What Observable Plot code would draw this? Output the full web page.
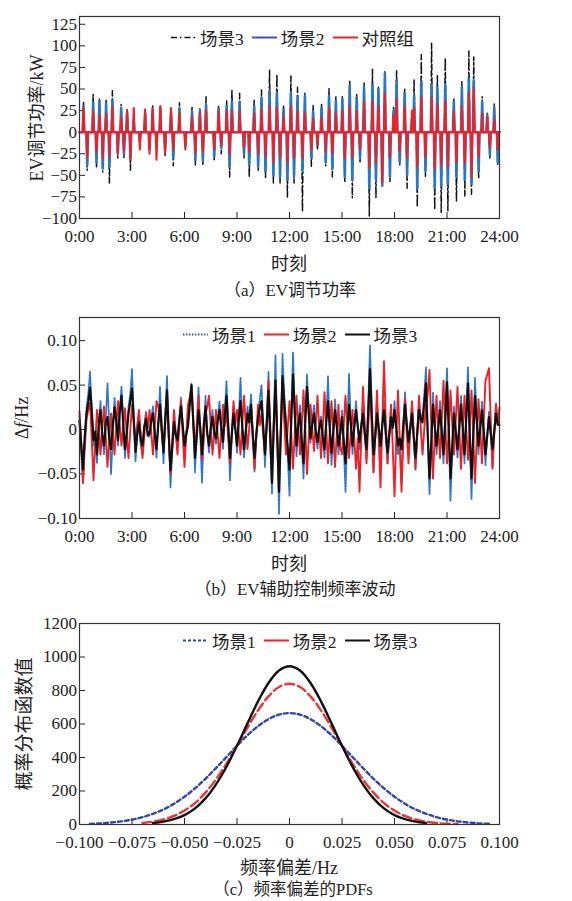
<!DOCTYPE html>
<html><head><meta charset="utf-8">
<script src="https://cdn.jsdelivr.net/npm/d3@7"></script>
<script src="https://cdn.jsdelivr.net/npm/@observablehq/plot@0.6"></script>
<style>
body{margin:0;background:#fff;}
#wrap{position:relative;width:572px;height:901px;font-family:"Liberation Serif","Noto Sans CJK SC",serif;color:#222;overflow:hidden;}
.ylab{position:absolute;white-space:nowrap;transform:translate(-50%,-50%) rotate(-90deg);font-size:18px;}
.xlab{position:absolute;white-space:nowrap;transform:translate(-50%,-50%);font-size:18px;}
.legend{position:absolute;display:flex;align-items:center;font-size:17.5px;transform:translateY(-50%);white-space:nowrap;}
.legend svg{margin-right:4px;}
.legend span{margin-right:8px;}
</style></head><body><div id="wrap"></div>
<script>
// ---------- Panel (a): EV regulation power (kW), spike events ----------
const evTime     = [0.23,0.44,0.78,0.97,1.14,1.33,1.52,1.71,1.88,2.19,2.38,2.54,2.72,2.91,3.10,3.45,3.75,4.00,4.18,4.40,4.62,4.89,5.23,5.36,5.71,6.05,6.43,6.62,6.88,7.05,7.23,7.70,7.95,8.10,8.41,8.58,8.71,9.15,9.40,9.70,9.98,10.21,10.40,10.63,10.86,11.08,11.28,11.46,11.66,11.88,12.08,12.26,12.46,12.74,12.88,13.25,13.35,13.60,13.83,14.07,14.26,14.45,14.65,15.02,15.16,15.44,15.59,15.84,16.03,16.26,16.56,16.74,16.94,17.08,17.30,17.45,17.74,17.95,18.12,18.30,18.58,18.72,19.00,19.12,19.30,19.53,19.77,20.12,20.30,20.45,20.67,20.90,21.05,21.39,21.54,21.85,22.02,22.25,22.40,22.53,22.81,23.01,23.30,23.45,23.70,23.90];
const evScene3   = [35,-44,44,-40,38,-46,37,-59,48,-30,32,-30,25,-44,18,-15,28,-22,32,-20,30,-27,26,-39,34,-20,30,-38,28,-39,41,-32,31,-25,36,-52,49,45,-30,-52,38,-44,49,-53,72,-60,67,-59,31,-76,65,-59,52,-92,45,-40,31,-20,32,-39,51,-52,41,41,-57,59,-76,44,-36,57,-97,73,-76,52,-60,70,-57,30,72,-38,51,-65,20,61,-87,90,-51,103,-90,66,-93,86,-91,39,-80,59,-74,94,-72,87,-54,41,22,-31,33,-38];
const evScene2   = [30,-38,34,-35,36,-42,33,-40,37,-24,28,-25,22,-30,12,-10,22,-18,25,-12,27,-22,22,-30,28,-15,24,-32,25,-33,32,-28,27,-18,30,-40,34,35,-25,-38,30,-40,40,-45,48,-50,45,-52,26,-55,46,-50,40,-45,42,-30,24,-15,28,-35,42,-42,36,38,-52,54,-55,40,-30,52,-65,55,-55,50,-62,68,-52,25,60,-35,45,-50,15,42,-65,58,-45,55,-65,52,-62,55,-60,35,-52,52,-55,62,-60,60,-45,35,20,-26,28,-35];
const evControl  = [28,-30,24,-22,20,-30,22,-28,30,-25,18,-22,26,-32,28,-20,25,-25,28,-32,30,-24,28,-20,22,-18,18,-24,22,-22,26,-20,24,-15,25,-25,25,24,-18,-22,22,-25,26,-28,30,-35,28,-30,18,-35,30,-30,24,-30,22,-20,15,-15,16,-22,28,-25,22,25,-30,30,-30,24,-20,35,-40,36,-35,30,-58,45,-30,20,38,-22,30,-30,25,28,-40,40,-28,40,-42,32,-38,35,-40,24,-35,30,-35,45,-52,52,-28,22,18,-18,15,-20];
const hourTicks  = [0,3,6,9,12,15,18,21,24];
const powerTicks = [-100,-75,-50,-25,0,25,50,75,100,125];

// ---------- Panel (b): frequency deviation (mHz), every 0.1 h ----------
const freqTime = Array.from({length:241},(_,i)=>i*0.1); // sampling instants 0:00..24:00
const dfScene1 = [
15,-25,-60,-10,25,40,65,25,-18,-5, -38,5,32,-5,-28,12,52,5,-50,-10,
36,12,-18,22,48,8,-32,-6,26,40, 68,16,-36,-8,12,-18,-28,4,20,-8,
-8,14,26,-5,-32,8,48,5,-38,14, 60,-8,-65,-25,12,-8,-18,12,36,6,
-26,-6,8,35,52,10,-48,-5,48,-5, -60,-8,38,-4,-26,2,22,-4,-16,12,
32,2,-22,20,55,5,-57,-10,26,3, -26,14,58,5,-32,-4,26,10,40,-8,
-48,-10,20,34,50,4,-42,10,65,-12, -72,8,84,-10,-95,-8,85,40,8,-30,
-75,12,87,25,-30,6,28,-18,-55,10, 62,22,-15,8,28,-3,-22,3,15,-12,
-32,12,60,4,-40,-6,34,5,-28,-6, 22,-20,-70,-5,63,10,-28,2,32,5,
-22,5,28,-6,-32,30,95,25,-48,-10, 28,3,-28,6,32,-5,-38,-8,20,3,
32,3,-28,-18,-60,5,42,8,-22,3, 28,-12,-45,-5,32,16,14,40,70,-8,
-73,-20,42,5,-28,3,32,-3,-38,14, 69,0,-80,-25,26,-3,-32,3,38,3,
-38,16,70,-8,-78,-10,58,14,-28,3, 32,-3,-40,-8,20,-6,-42,-3,30,8, 8];
const dfScene2 = [
20,-15,-60,-20,12,22,30,-10,-57,-15, 22,5,-28,0,26,-8,-42,-10,18,-5,
-28,5,32,6,-18,4,24,-5,-32,-2, 28,8,-14,6,22,-6,-32,-8,18,2,
22,-4,-28,4,32,25,18,-5,-24,6, 38,-8,-50,-12,22,-4,-28,2,32,-6,
-42,-6,28,36,44,8,-24,5,38,2, -34,-10,18,25,38,4,-28,-4,22,-6,
-32,-2,28,4,22,-10,-38,-5,32,6, 22,-5,-28,6,38,6,-22,2,28,-6,
-44,-8,28,5,18,-6,-28,10,55,5, -40,2,45,-5,-55,0,50,8,-28,2,
32,-5,-44,-4,38,4,-28,4,44,2, -50,-10,28,2,-24,6,38,2,-32,2,
42,0,-38,-2,32,-4,-42,-6,28,-20, -28,5,38,4,-32,-4,22,-10,-44,-10,
-70,-10,48,4,-38,5,50,0,-48,-4, 44,-10,-65,5,77,10,-38,-4,28,-20,
-75,-10,44,-10,-70,-15,34,-2,-38,-2, 32,-4,-44,-4,38,2,-28,0,28,40,
67,5,-55,-6,38,2,-32,10,55,6, -38,0,44,6,-28,10,48,2,-44,-2,
38,0,-34,4,44,-8,-60,-10,34,0, -38,10,55,62,69,10,-44,-5,28,5, 25];
const dfScene3 = [
10,-18,-45,-8,18,30,47,22,-12,-2, -28,5,22,-6,-18,8,14,-10,-22,4,
25,10,-12,20,38,5,-22,-4,18,32, 46,12,-25,-5,8,-12,-18,3,12,-6,
-5,10,18,-4,-22,6,28,2,-26,12, 44,-5,-46,-20,8,-6,-12,10,26,4,
-18,-5,4,28,50,10,-32,-8,22,2, -28,5,26,-4,-18,2,14,-4,-10,10,
22,2,-14,15,38,4,-32,-6,18,2, -18,10,32,4,-22,-2,18,8,28,-6,
-32,-6,12,24,32,2,-28,6,44,-10, -60,5,55,-10,-70,-5,60,30,4,-20,
-45,10,62,18,-18,5,18,-12,-38,8, 48,18,-10,6,18,-2,-14,2,10,-8,
-22,8,32,2,-26,-4,22,4,-18,-4, 14,-12,-38,-6,28,8,-18,2,22,4,
-14,4,18,-5,-22,20,68,18,-28,-8, 18,2,-18,5,22,-4,-26,-6,14,2,
22,2,-18,-10,-22,4,28,6,-14,2, 18,-8,-32,-4,22,12,8,30,52,-5,
-55,-15,28,4,-18,2,22,-2,-28,10, 53,0,-55,-18,18,-2,-22,2,28,2,
-28,12,52,-5,-55,-8,38,10,-18,2, 22,-2,-28,-6,14,-4,-22,-2,18,6, 5];
const freqTicks = [-0.1,-0.05,0,0.05,0.1];

// ---------- Panel (c): PDFs of frequency deviation ----------
const pdfX = [-0.095,-0.09,-0.085,-0.08,-0.075,-0.07,-0.065,-0.06,-0.055,-0.05,-0.045,-0.04,-0.035,-0.03,-0.025,-0.02,-0.015,-0.01,-0.005,0,0.005,0.01,0.015,0.02,0.025,0.03,0.035,0.04,0.045,0.05,0.055,0.06,0.065,0.07,0.075,0.08,0.085,0.09,0.095];
const pdfScene1 = [4,7,12,19,29,44,64,90,124,166,216,273,337,403,470,533,587,629,656,665,656,629,587,533,470,403,337,273,216,166,124,90,64,44,29,19,12,7,4];
const pdfScene2 = [null,null,null,null,null,9,17,30,51,83,128,190,269,364,470,579,681,765,821,840,821,765,681,579,470,364,269,190,128,83,51,30,17,9,5,3,null,null,null];
const pdfScene3 = [null,null,null,null,null,null,8,17,32,56,96,156,240,345,470,604,735,845,919,945,919,845,735,604,470,345,240,156,96,56,32,17,8,null,null,null,null,null,null];
const pdfXTicks = [-0.1,-0.075,-0.05,-0.025,0,0.025,0.05,0.075,0.1];
const pdfYTicks = [0,200,400,600,800,1000,1200];

// ---------- helpers ----------
const wrap = document.getElementById("wrap");
const BLUE = "#2b78c2", RED = "#ec2228", BLACK = "#111";
const W = 0.045; // half width of a spike (h)
function spikes(vals){
  const pts = [{t:0, v:0}];
  evTime.forEach((t,i)=>{ pts.push({t:t-W, v:0}, {t, v:vals[i]}, {t:t+W, v:0}); });
  pts.push({t:24, v:0});
  return pts;
}
const fmtHour = h => `${h}:00`;
const fmtFixed = n => d => d === 0 ? "0" : d3.format(`.${n}f`)(d);
const baseStyle = {fontFamily:"'Liberation Serif', serif", fontSize:"17px", color:"#222", background:"transparent", overflow:"visible"};
function place(svg, top){
  svg.style.position = "absolute"; svg.style.left = "0px"; svg.style.top = top + "px";
  svg.querySelectorAll('g[aria-label="x-axis tick"] path, g[aria-label="y-axis tick"] path').forEach(p=>{
    const d = p.getAttribute("d"); if (d) p.setAttribute("d", d.replace(/-?\d*\.?\d+/g, m => String(-parseFloat(m))));
  });
  wrap.append(svg);
}
function text(cls, html, x, y, size){
  const el = document.createElement("div"); el.className = cls; el.innerHTML = html;
  el.style.left = x + "px"; el.style.top = y + "px"; if (size) el.style.fontSize = size + "px";
  wrap.append(el);
}
function legend(items, left, cy){
  const div = document.createElement("div"); div.className = "legend";
  div.style.left = left + "px"; div.style.top = cy + "px";
  items.forEach(it => {
    div.insertAdjacentHTML("beforeend", `<svg width="25" height="10"><line x1="0" y1="5" x2="25" y2="5" stroke="${it.color}" stroke-width="${it.w}" ${it.dash ? `stroke-dasharray="${it.dash}"` : ""}/></svg><span>${it.label}</span>`);
  });
  wrap.append(div);
}

// ---------- Panel (a) ----------
const plotA = Plot.plot({
  width:572, height:275, marginTop:16, marginBottom:57, marginLeft:79, marginRight:73,
  style: baseStyle,
  x: {domain:[0,24], ticks:hourTicks, tickFormat:fmtHour, label:null, tickSize:6, tickPadding:5},
  y: {domain:[-100,134], ticks:powerTicks, tickFormat:d3.format("d"), label:null, tickSize:6, tickPadding:-3.5},
  marks: [
    Plot.lineY(spikes(evScene3), {x:"t", y:"v", stroke:BLACK, strokeWidth:1.5, strokeDasharray:"6,3,1.5,3"}),
    Plot.lineY(spikes(evScene2), {x:"t", y:"v", stroke:BLUE, strokeWidth:2.6}),
    Plot.lineY(spikes(evControl), {x:"t", y:"v", stroke:RED, strokeWidth:2.1}),
    Plot.frame({stroke:"#333", strokeWidth:1.2})
  ]
});
place(plotA, 0);
text("ylab", "EV调节功率/kW", 35, 118);
text("xlab", "时刻", 289, 262);
text("xlab", "（a）EV调节功率", 290, 288, 17);
legend([
  {color:BLACK, w:1.5, dash:"6,3,1.5,3", label:"场景3"},
  {color:"#3a56b0", w:2, label:"场景2"},
  {color:RED, w:2, label:"对照组"}
], 171, 37);

// ---------- Panel (b) ----------
const freqRows = freqTime.map((t,i)=>({t, s1:dfScene1[i]/1000, s2:dfScene2[i]/1000, s3:dfScene3[i]/1000}));
const plotB = Plot.plot({
  width:572, height:275, marginTop:17, marginBottom:57, marginLeft:79, marginRight:73,
  style: baseStyle,
  x: {domain:[0,24], ticks:hourTicks, tickFormat:fmtHour, label:null, tickSize:6, tickPadding:5},
  y: {domain:[-0.1,0.126], ticks:freqTicks, tickFormat:fmtFixed(2), label:null, tickSize:6, tickPadding:-3.5},
  marks: [
    Plot.lineY(freqRows, {x:"t", y:"s1", stroke:BLUE, strokeWidth:1.8, strokeDasharray:"1.5,1.5"}),
    Plot.lineY(freqRows, {x:"t", y:"s2", stroke:RED, strokeWidth:1.9}),
    Plot.lineY(freqRows, {x:"t", y:"s3", stroke:BLACK, strokeWidth:2.2}),
    Plot.frame({stroke:"#333", strokeWidth:1.2})
  ]
});
place(plotB, 300);
text("ylab", "Δ<i>f</i>/Hz", 22, 418);
text("xlab", "时刻", 289, 562);
text("xlab", "（b）EV辅助控制频率波动", 295, 587, 17);
legend([
  {color:"#3a56b0", w:1.8, dash:"1.5,1.5", label:"场景1"},
  {color:RED, w:2, label:"场景2"},
  {color:BLACK, w:2, label:"场景3"}
], 183, 334);

// ---------- Panel (c) ----------
const pdfRows = pdfX.map((x,i)=>({x, s1:pdfScene1[i], s2:pdfScene2[i], s3:pdfScene3[i]}));
const plotC = Plot.plot({
  width:572, height:275, marginTop:23, marginBottom:51, marginLeft:79, marginRight:73,
  style: baseStyle,
  x: {domain:[-0.1,0.1], ticks:pdfXTicks, tickFormat:fmtFixed(3), label:null, tickSize:6, tickPadding:5},
  y: {domain:[0,1200], ticks:pdfYTicks, tickFormat:d3.format("d"), label:null, tickSize:6, tickPadding:-3.5},
  marks: [
    Plot.line(pdfRows, {x:"x", y:"s1", stroke:"#2f47a6", strokeWidth:2.4, strokeDasharray:"4,3", curve:"catmull-rom"}),
    Plot.line(pdfRows, {x:"x", y:"s2", stroke:"#e8353a", strokeWidth:2.4, strokeDasharray:"9,4", curve:"catmull-rom"}),
    Plot.line(pdfRows, {x:"x", y:"s3", stroke:BLACK, strokeWidth:2.4, curve:"catmull-rom"}),
    Plot.frame({stroke:"#333", strokeWidth:1.2})
  ]
});
place(plotC, 600);
text("ylab", "概率分布函数值", 22, 724, 19);
text("xlab", "频率偏差/Hz", 289, 866);
text("xlab", "（c）频率偏差的PDFs", 293, 888, 16.5);
legend([
  {color:"#2f47a6", w:2, dash:"3,2", label:"场景1"},
  {color:RED, w:2, label:"场景2"},
  {color:BLACK, w:2, label:"场景3"}
], 183, 640);
</script></body></html>
